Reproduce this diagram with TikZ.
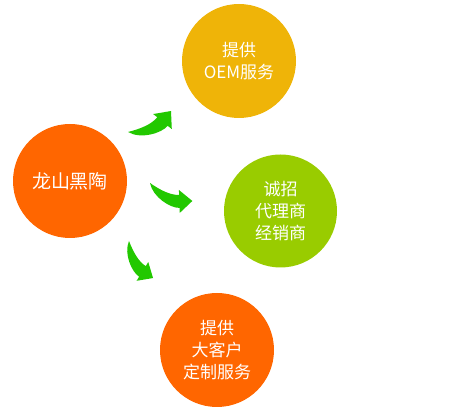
\documentclass[tikz,border=0pt]{standalone}
\usepackage{fontspec}
\newfontfamily\cjk{Noto Sans CJK SC}

\definecolor{lsorange}{HTML}{FF6600}
\definecolor{lsyellow}{HTML}{EFB408}
\definecolor{lsgreen}{HTML}{99CC00}
\definecolor{arrowgreen}{HTML}{22C800}

\begin{document}
\begin{tikzpicture}[x=1pt, y=1pt, line join=round]

% --- Stijlen ---
\tikzset{
    bubble/.style={
        circle,
        minimum size=114pt,
        inner sep=0pt,
        text=white,
        align=center,
        font=\cjk\fontsize{17}{22}\selectfont
    },
    swoosh/.pic={
        \fill[arrowgreen]
            (0,0) .. controls (12,-2.5) and (23.3,-3.4) .. (31.5,0.4)
            -- (29.3,4.9) -- (46,0) -- (39.1,-15.9) -- (36.9,-11.4)
            .. controls (28.7,-15.2) and (8,-12) .. cycle;
    }
}

\useasboundingbox (0,0) rectangle (456,409);

% --- Cirkels ---
\node[bubble, fill=lsorange, font=\cjk\fontsize{19}{22}\selectfont]
    (longshan) at (70,228) {龙山黑陶};

\node[bubble, fill=lsyellow] (oem) at (239,348)
    {提供\\OEM服务};

\node[bubble, fill=lsgreen, minimum size=113pt] (dealer) at (280.5,198)
    {诚招\\代理商\\经销商};

\node[bubble, fill=lsorange] (custom) at (217,59)
    {提供\\大客户\\定制服务};

% --- Groene pijlen ---
\coordinate (oemtail)    at (128,277);
\coordinate (dealertail) at (150,226);
\coordinate (customtail) at (129,168);

\pic[rotate=26, scale=1.04]  at (oemtail)    {swoosh};
\pic[rotate=-23]             at (dealertail) {swoosh};
\pic[rotate=-57, scale=0.96] at (customtail) {swoosh};

\end{tikzpicture}
\end{document}
